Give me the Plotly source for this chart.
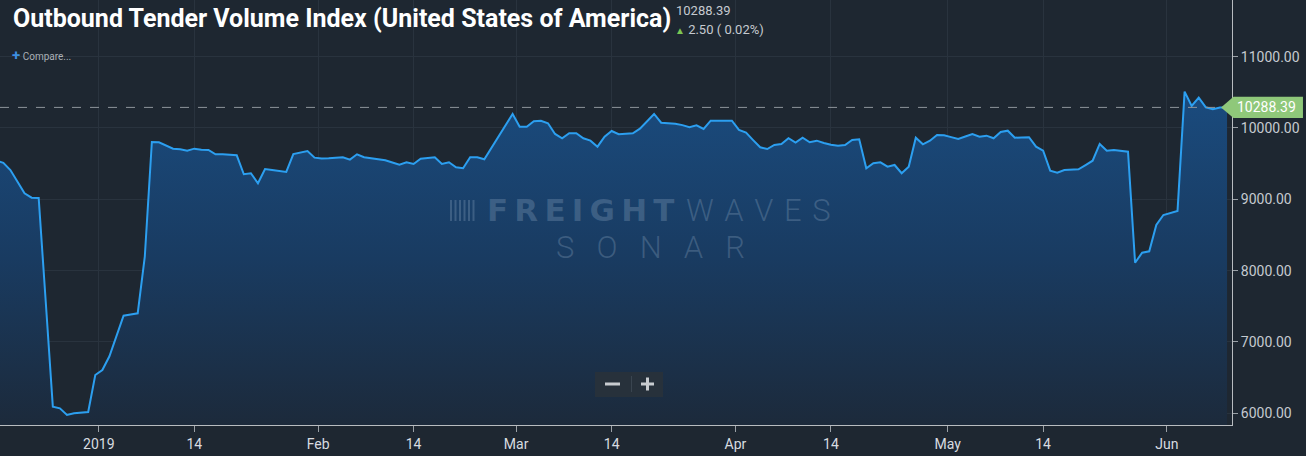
import pandas as pd
import plotly.graph_objects as go

# daily index values (one list per month)
dec_2018 = [9545, 9510, 9410, 9255, 9084, 9023, 9018, 7560, 6093, 6070, 5976, 6000, 6010, 6018, 6537]
jan_2019 = [6607, 6800, 7090, 7368, 7385, 7402, 8195, 9804, 9800, 9760, 9710, 9701, 9682, 9710, 9695, 9692,
            9631, 9631, 9625, 9617, 9351, 9365, 9225, 9425, 9410, 9396, 9383, 9635, 9655, 9677, 9584]
feb_2019 = [9572, 9575, 9585, 9589, 9556, 9631, 9589, 9575, 9560, 9547, 9515, 9485, 9519, 9495, 9570, 9580,
            9589, 9495, 9519, 9449, 9435, 9589, 9589, 9561, 9720, 9880, 10040, 10196]
mar_2019 = [10018, 10018, 10094, 10102, 10066, 9916, 9856, 9926, 9926, 9856, 9822, 9738, 9878, 9958, 9912,
            9918, 9926, 9990, 10090, 10196, 10074, 10068, 10060, 10040, 10010, 10038, 9986, 10102, 10102,
            10102, 10102]
apr_2019 = [9972, 9934, 9830, 9730, 9705, 9762, 9776, 9856, 9794, 9864, 9800, 9822, 9790, 9765, 9752, 9762,
            9832, 9842, 9435, 9505, 9519, 9457, 9481, 9365, 9457, 9864, 9771, 9822, 9902, 9898]
may_2019 = [9872, 9846, 9880, 9916, 9878, 9892, 9856, 9944, 9962, 9864, 9867, 9870, 9738, 9682, 9401, 9373,
            9411, 9416, 9421, 9480, 9541, 9776, 9682, 9692, 9680, 9668, 8111, 8252, 8271, 8640, 8780]
jun_2019 = [8810, 8836, 10509, 10308, 10425, 10290, 10262, 10285.89, 10288.39]

month_starts = ["2018-12-17", "2019-01-01", "2019-02-01", "2019-03-01", "2019-04-01", "2019-05-01", "2019-06-01"]
months = [dec_2018, jan_2019, feb_2019, mar_2019, apr_2019, may_2019, jun_2019]

tick_dates = ["2019-01-01", "2019-01-14 12:00", "2019-02-01", "2019-02-14 12:00", "2019-03-01",
              "2019-03-14 12:00", "2019-04-01", "2019-04-14 12:00", "2019-05-01", "2019-05-14 12:00",
              "2019-06-01"]
tick_labels = ["2019", "14", "Feb", "14", "Mar", "14", "Apr", "14", "May", "14", "Jun"]

last_value = 10288.39
change = "2.50 ( 0.02%)"

dates = []
values = []
for start, vals in zip(month_starts, months):
    dates += list(pd.date_range(start + " 12:00", periods=len(vals), freq="D"))
    values += vals

bg = "#1e2731"
grid = "#29333e"
ymin, ymax = 5836, 11794
W, H = 1232, 425  # plot area in pixels


def px(x):
    return x / W


def py(y):
    return 1 - y / H


fig = go.Figure(go.Scatter(
    x=dates, y=values, mode="lines",
    line=dict(color="#2c9ff0", width=2),
    fill="tozeroy",
    fillgradient=dict(type="vertical", start=ymin, stop=10500,
                      colorscale=[[0, "#1c2a3b"], [0.5, "#193b61"], [1, "#1a4b7e"]]),
    hoverinfo="skip",
))

fig.update_layout(
    width=1306, height=456,
    margin=dict(l=0, r=74, t=0, b=31),
    paper_bgcolor=bg, plot_bgcolor=bg,
    showlegend=False,
    font=dict(family="Roboto", color="#c5cad0"),
)
fig.update_xaxes(
    type="date",
    range=["2018-12-18 00:45", "2019-06-10 04:50"],
    tickmode="array", tickvals=tick_dates, ticktext=tick_labels,
    ticks="outside", ticklen=6, tickcolor="#9aa0a6",
    showline=True, linecolor="#b8bcc0", linewidth=1,
    showgrid=True, gridcolor=grid, gridwidth=1,
    tickfont=dict(size=14, color="#d8dce0"),
    zeroline=False,
)
fig.update_yaxes(
    side="right", range=[ymin, ymax],
    tickmode="array", tickvals=[6000, 7000, 8000, 9000, 10000, 11000],
    tickformat=".2f",
    ticks="outside", ticklen=5, tickcolor="#9aa0a6",
    showline=True, linecolor="#b8bcc0", linewidth=1,
    showgrid=True, gridcolor=grid, gridwidth=1,
    tickfont=dict(size=14, color="#c5cad0"),
    zeroline=False,
)

# current value line and marker label
fig.add_shape(type="line", xref="paper", yref="y", x0=0, x1=1, y0=last_value, y1=last_value,
              line=dict(color="#8d949b", width=1, dash="dash"))
fig.add_shape(type="path", xref="paper", yref="y",
              path=f"M 0.9911,{last_value} L 1.0012,10436 L 1.0576,10436 L 1.0576,10141 L 1.0012,10141 Z",
              fillcolor="#8fc87a", line=dict(width=0))
fig.add_annotation(xref="paper", yref="y", x=1.0025, y=last_value, xanchor="left", yanchor="middle",
                   text=f"{last_value:.2f}", showarrow=False, font=dict(size=14, color="#ffffff"))

# title block
fig.add_annotation(xref="paper", yref="paper", x=px(11), y=py(18), xanchor="left", yanchor="middle",
                   text="<b>Outbound Tender Volume Index (United States of America)</b>", showarrow=False,
                   font=dict(family="Roboto", size=25, color="#ffffff"))
fig.add_annotation(xref="paper", yref="paper", x=px(674), y=py(10), xanchor="left", yanchor="middle",
                   text=f"{last_value:.2f}", showarrow=False, font=dict(size=13, color="#c5cad0"))
fig.add_annotation(xref="paper", yref="paper", x=px(673), y=py(29), xanchor="left", yanchor="middle",
                   text=f"<span style='color:#7cc653;font-size:10px'>▲</span> {change}", showarrow=False,
                   font=dict(size=13, color="#c5cad0"))
fig.add_annotation(xref="paper", yref="paper", x=px(10), y=py(55), xanchor="left", yanchor="middle",
                   text="<span style='color:#3d8fe0;font-size:15px'><b>+</b></span> Compare...", showarrow=False,
                   font=dict(size=10, color="#aab0b6"))

# watermark
wm = "rgba(150,175,200,0.28)"
thin = "\u2009"
fig.add_annotation(xref="paper", yref="paper", x=px(485), y=py(210), xanchor="left", yanchor="middle",
                   text="<b>" + thin.join("FREIGHT") + "</b>", showarrow=False,
                   font=dict(family="DejaVu Sans", size=31, color=wm))
fig.add_annotation(xref="paper", yref="paper", x=px(684), y=py(210), xanchor="left", yanchor="middle",
                   text="\u2004".join("WAVES"), showarrow=False,
                   font=dict(family="Roboto", size=31, color=wm, weight=300))
fig.add_annotation(xref="paper", yref="paper", x=px(650), y=py(247), xanchor="center", yanchor="middle",
                   text="\u2002\u2009".join("SONAR"), showarrow=False,
                   font=dict(family="Roboto", size=31, color=wm, weight=300))
for i in range(6):
    lx = 451 + i * 4.5
    fig.add_shape(type="line", xref="paper", yref="paper", x0=px(lx), x1=px(lx),
                  y0=py(200), y1=py(221), line=dict(color=wm, width=2))

# zoom buttons
btn = "#c8ccd0"
fig.add_shape(type="rect", xref="paper", yref="paper", x0=px(595), x1=px(663),
              y0=py(397), y1=py(372), fillcolor="#27313b", line=dict(width=0))
fig.add_shape(type="line", xref="paper", yref="paper", x0=px(631.5), x1=px(631.5),
              y0=py(392), y1=py(376), line=dict(color="#3a4550", width=1))
fig.add_shape(type="line", xref="paper", yref="paper", x0=px(605), x1=px(620),
              y0=py(384), y1=py(384), line=dict(color=btn, width=3))
fig.add_shape(type="line", xref="paper", yref="paper", x0=px(641), x1=px(654),
              y0=py(384), y1=py(384), line=dict(color=btn, width=3))
fig.add_shape(type="line", xref="paper", yref="paper", x0=px(647.5), x1=px(647.5),
              y0=py(390.5), y1=py(377.5), line=dict(color=btn, width=3))

fig.write_html("out.html", config={"displayModeBar": False},
               post_script="document.body.style.margin='0';")
